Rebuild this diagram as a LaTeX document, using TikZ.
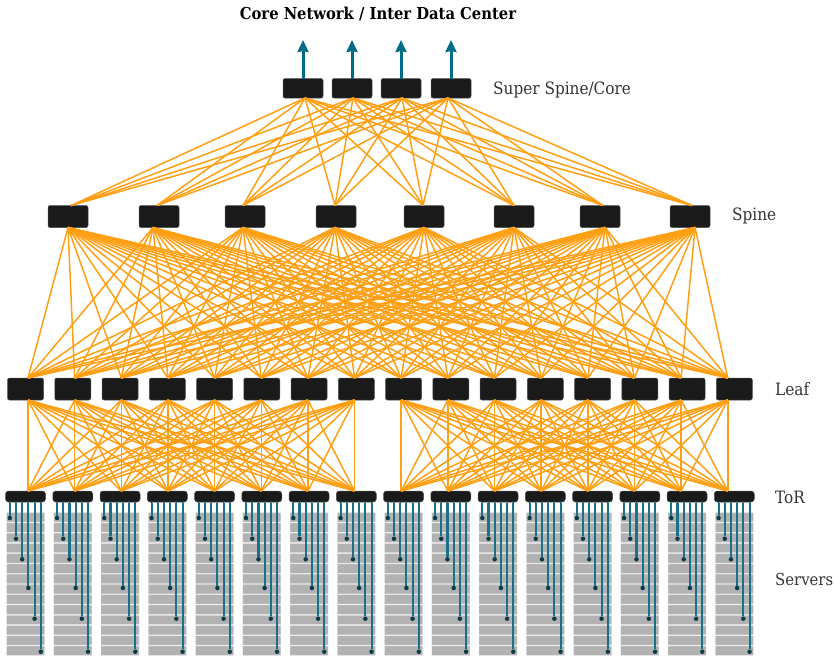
\documentclass[tikz,border=0pt]{standalone}
\usepackage{fontspec}
\setmainfont{DejaVu Serif Condensed}
\usetikzlibrary{arrows.meta}
\usetikzlibrary{calc}
\definecolor{wireOrange}{HTML}{FF9F14}
\definecolor{uplinkTeal}{HTML}{006C85}
\definecolor{serverTeal}{HTML}{1B7087}
\definecolor{dotDark}{HTML}{0B3A48}
\definecolor{boxBlack}{HTML}{1A1A1A}
\tikzset{
    switchBox/.style={
        ,   draw=black!70
        ,   line width=0.5pt
        ,   fill=boxBlack
        ,   rounded corners=2pt
        ,   inner sep=0pt
        ,   outer sep=0pt
        ,   minimum width=#1
    },
    coreBox/.style={switchBox=40pt, minimum height=19.5pt},
    spineBox/.style={switchBox=40pt, minimum height=22pt},
    leafBox/.style={switchBox=36pt, minimum height=22pt},
    torBox/.style={switchBox=40pt, minimum height=11pt, rounded corners=3pt},
    serverBox/.style={
        ,   draw=black!10
        ,   line width=0.4pt
        ,   fill=black!30
        ,   rounded corners=0.5pt
        ,   inner sep=0pt
        ,   outer sep=0pt
        ,   minimum width=38pt
        ,   minimum height=9.3pt
    },
    fabricLink/.style={draw=wireOrange, line width=1.5pt},
    uplink/.style={
        ,   draw=uplinkTeal
        ,   line width=3pt
        ,   -{Stealth[length=12pt,width=11pt,inset=1pt]}
    },
    serverLink/.style={draw=serverTeal, line width=2.1pt},
    srvDot/.style={circle, fill=dotDark, inner sep=0pt, outer sep=0pt, minimum size=#1},
    tierLabel/.style={anchor=west, inner sep=0pt, text=black!80, font=\fontsize{17pt}{20pt}\selectfont}
}
\begin{document}
\begin{tikzpicture}[x=1pt,y=-1pt]
\useasboundingbox (0,0) rectangle (834,657);

\node[font=\fontsize{16.4pt}{20pt}\selectfont\bfseries] (title) at (378,14.5) {Core Network / Inter Data Center};

% super spine
\foreach \n/\x/\c in {1/303/305,2/352/353,3/401/402,4/451/448}{
  \node[coreBox] (core\n) at (\x,88.3) {};
  \coordinate (coreOut\n) at (\x,40);
  \coordinate (coreB\n) at (\c,98);
  \draw[uplink] (core\n) -- (coreOut\n);
}

% spine
\foreach \n/\x/\t/\b in {1/68/71/68,2/159/157/153,3/245/243/243,4/336/335/335,5/424/423/424,6/514/514/514,7/600/603/605,8/690/692/695}{
  \node[spineBox] (spine\n) at (\x,216.5) {};
  \coordinate (spineT\n) at (\t,205.5);
  \coordinate (spineB\n) at (\b,227.5);
}

% leaf and top of rack
\foreach \n [evaluate=\n as \x using 25.5+47.25*(\n-1), evaluate=\n as \c using 28+46.65*(\n-1)] in {1,...,16}{
  \node[leafBox] (leaf\n) at (\x,389) {};
  \coordinate (leafT\n) at (\c,378);
  \coordinate (leafB\n) at (\c,400);
  \node[torBox] (tor\n) at (\x,496.5) {};
  \coordinate (torT\n) at (\c,491);
  % rack of servers
  \foreach \s in {1,...,14}{
    \node[serverBox] (srv\n-\s) at (\x,517.3+10.26*\s-10.26) {};
  }
  \foreach \k/\y in {1/518,2/538.7,3/559.3,4/588,5/618.7,6/651.7}{
    \node[srvDot=2.6pt] (srvTop\n-\k) at ($(tor\n.south)+(-15.7+6.2*\k-6.2,-0.5)$) {};
    \node[srvDot=4.5pt] (srvEnd\n-\k) at (srvTop\n-\k |- 0,\y) {};
    \draw[serverLink] (srvTop\n-\k) -- (srvEnd\n-\k);
  }
}

% all to all wiring
\foreach \a in {1,...,4}{
  \foreach \b in {1,...,8}{
    \draw[fabricLink] (coreB\a) -- (spineT\b);
  }
}
\foreach \a in {1,...,8}{
  \foreach \b in {1,...,16}{
    \draw[fabricLink] (spineB\a) -- (leafT\b);
  }
}
\foreach \a in {1,...,8}{
  \foreach \b in {1,...,8}{
    \draw[fabricLink] (leafB\a) -- (torT\b);
  }
}
\foreach \a in {9,...,16}{
  \foreach \b in {9,...,16}{
    \draw[fabricLink] (leafB\a) -- (torT\b);
  }
}

\node[tierLabel] (coreLabel) at (493,89.5) {Super Spine/Core};
\node[tierLabel] (spineLabel) at (732,215.5) {Spine};
\node[tierLabel] (leafLabel) at (775,389.5) {Leaf};
\node[tierLabel] (torLabel) at (775,497.5) {ToR};
\node[tierLabel, font=\fontsize{16.5pt}{20pt}\selectfont] (srvLabel) at (775,579.5) {Servers};
\end{tikzpicture}
\end{document}
